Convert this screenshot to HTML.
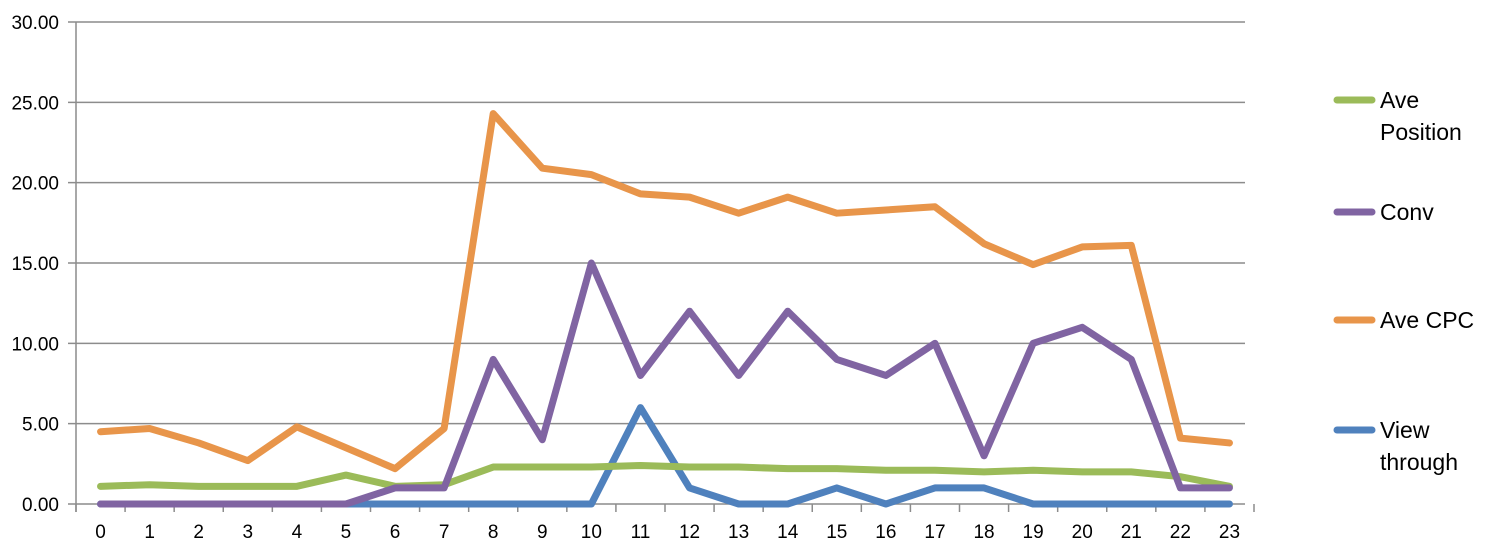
<!DOCTYPE html>
<html><head><meta charset="utf-8"><style>
body{margin:0;background:#fff;}
svg{display:block;font-family:"Liberation Sans",sans-serif;}
</style></head><body>
<svg id="chart" width="1500" height="548" xmlns="http://www.w3.org/2000/svg"></svg>
<script>
const categories=["0","1","2","3","4","5","6","7","8","9","10","11","12","13","14","15","16","17","18","19","20","21","22","23"];
const yTicks=[0,5,10,15,20,25,30];
const avePosition=[1.1,1.2,1.1,1.1,1.1,1.8,1.1,1.2,2.3,2.3,2.3,2.4,2.3,2.3,2.2,2.2,2.1,2.1,2.0,2.1,2.0,2.0,1.7,1.1];
const conv=[0,0,0,0,0,0,1,1,9,4,15,8,12,8,12,9,8,10,3,10,11,9,1,1];
const aveCPC=[4.5,4.7,3.8,2.7,4.8,3.5,2.2,4.7,24.3,20.9,20.5,19.3,19.1,18.1,19.1,18.1,18.3,18.5,16.2,14.9,16.0,16.1,4.1,3.8];
const viewThrough=[0,0,0,0,0,0,0,0,0,0,0,6,1,0,0,1,0,1,1,0,0,0,0,0];
const seriesNames=["Ave Position","Conv","Ave CPC","View through"];

const NS="http://www.w3.org/2000/svg";
const svg=document.getElementById('chart');
const L=76,R=1254,T=22,B=504,yMax=30;
const band=(R-L)/categories.length;
const x=i=>L+band*(i+0.5);
const y=v=>B-(v/yMax)*(B-T);
function mk(t,a){const e=document.createElementNS(NS,t);for(const k in a)e.setAttribute(k,a[k]);svg.appendChild(e);return e;}

yTicks.forEach(v=>{
  const g=mk('line',{x1:L-8,x2:1245,y1:y(v),y2:y(v),stroke:'#8c8c8c','stroke-width':1.5});
  
  
  const t=mk('text',{x:59,y:y(v)+7,'text-anchor':'end','font-size':19,fill:'#000'});
  t.textContent=v.toFixed(2);
  
  
});
const ax=mk('line',{x1:L,x2:L,y1:T,y2:B+8,stroke:'#8c8c8c','stroke-width':1.5});


for(let i=0;i<=categories.length;i++){
  const tk=mk('line',{x1:L+band*i,x2:L+band*i,y1:B,y2:B+8,stroke:'#8c8c8c','stroke-width':1.5});
  
  
}
categories.forEach((c,i)=>{
  const t=mk('text',{x:x(i),y:538,'text-anchor':'middle','font-size':19,fill:'#000'});
  t.textContent=c;
  
  
});
const data=[avePosition,conv,aveCPC,viewThrough];
const colors=['#9bbb59','#8064a2','#e8954a','#4f81bd'];
const order=[3,0,1,2];
order.forEach(s=>{
  const p=mk('polyline',{points:data[s].map((v,i)=>x(i)+','+y(v)).join(' '),fill:'none',stroke:colors[s],'stroke-width':7,'stroke-linejoin':'round','stroke-linecap':'round'});
  
  
});
const legY=[100,212,320,430];
seriesNames.forEach((n,s)=>{
  const l=mk('line',{x1:1337,x2:1372,y1:legY[s],y2:legY[s],stroke:colors[s],'stroke-width':7,'stroke-linecap':'round'});
  
  
  const words=n==='Ave Position'?['Ave','Position']:n==='View through'?['View','through']:[n];
  words.forEach((w,k)=>{
    const t=mk('text',{x:1380,y:legY[s]+8+k*32,'font-size':23,fill:'#000'});
    t.textContent=w;
    
    
  });
});
</script>
</body></html>
